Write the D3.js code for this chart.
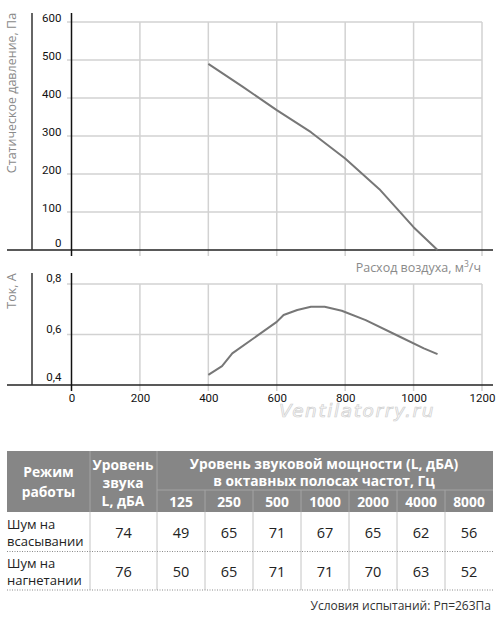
<!DOCTYPE html>
<html lang="ru">
<head>
<meta charset="utf-8">
<title>Характеристика вентилятора</title>
<script src="https://cdn.jsdelivr.net/npm/d3@7"></script>
<style>
    body { margin: 0; background: #fff; }
    svg { display: block; font-family: "Open Sans", sans-serif; }
    .tick text { font-family: Roboto, sans-serif; font-size: 11.5px; fill: #111; }
    .axis-title { fill: #8a8a8a; font-size: 12.5px; }
</style>
</head>
<body>
<script>
// ---- data ----
var flowTicks = [0, 200, 400, 600, 800, 1000, 1200];
var pressureTicks = [0, 100, 200, 300, 400, 500, 600];
var currentTicks = [0.4, 0.6, 0.8];

var pressureFlow = [400, 500, 600, 700, 800, 900, 1000, 1070];
var pressure     = [490, 430, 368, 310, 241, 160, 60, 0];

var currentFlow = [400, 440, 470, 600, 620, 660, 700, 740, 790, 860, 960, 1030, 1070];
var current     = [0.44, 0.475, 0.525, 0.65, 0.677, 0.697, 0.71, 0.71, 0.694, 0.657, 0.591, 0.545, 0.522];

var octaves = ["125", "250", "500", "1000", "2000", "4000", "8000"];
var modes = [["Шум на", "всасывании"], ["Шум на", "нагнетании"]];
var soundLevel = [74, 76];
var octaveLevels = [
    [49, 65, 71, 67, 65, 62, 56],
    [50, 65, 71, 71, 70, 63, 52]
];

var w = 500, h = 622;
var svg = d3.select("body").append("svg").attr("width", w).attr("height", h);

// shared x scale
var x = d3.scaleLinear().domain([0, 1200]).range([71.5, 482]);

function drawPanel(y, ticks, top, fmt, data, yLabel, labelY, labelShift) {
    var g = svg.append("g");
    var y0 = y.range()[0];

    // grid
    g.selectAll(".hgrid").data(ticks.slice(1)).enter().append("line")
        .attr("x1", 67).attr("x2", x(1200))
        .attr("y1", d => y(d)).attr("y2", d => y(d))
        .attr("stroke", "#d2d2d2").attr("stroke-width", 1.5);
    g.selectAll(".vgrid").data(flowTicks.slice(1)).enter().append("line")
        .attr("x1", d => x(d)).attr("x2", d => x(d))
        .attr("y1", y(ticks[ticks.length - 1])).attr("y2", y0 + 6)
        .attr("stroke", "#d2d2d2").attr("stroke-width", 1.5);

    // axis lines
    g.append("line").attr("x1", 7).attr("x2", 493).attr("y1", y0).attr("y2", y0)
        .attr("stroke", "#222").attr("stroke-width", 1.5);
    g.append("line").attr("x1", 32).attr("x2", 32).attr("y1", top).attr("y2", y0)
        .attr("stroke", "#333").attr("stroke-width", 1.5);
    g.append("line").attr("x1", x(0)).attr("x2", x(0)).attr("y1", top).attr("y2", y0 + 6)
        .attr("stroke", "#111").attr("stroke-width", 1.5);

    // y tick labels (lowest one sits a bit higher, above the axis)
    var ya = g.append("g").attr("transform", "translate(" + x(0) + ",0)")
        .call(d3.axisLeft(y).tickValues(ticks).tickFormat(fmt).tickSize(0).tickPadding(10));
    ya.select(".domain").remove();
    ya.selectAll("text").attr("y", (d, i) => i === 0 ? labelShift - 2.5 : labelShift);

    // curve
    g.append("path")
        .datum(data)
        .attr("fill", "none")
        .attr("stroke", "#777")
        .attr("stroke-width", 2)
        .attr("stroke-linejoin", "round")
        .attr("d", d3.line().x(d => x(d[0])).y(d => y(d[1])));

    // y title
    g.append("text").attr("class", "axis-title")
        .attr("transform", "translate(16," + labelY + ") rotate(-90)")
        .attr("text-anchor", "middle")
        .text(yLabel);
    return g;
}

// ---- pressure panel ----
var yP = d3.scaleLinear().domain([0, 600]).range([250, 22]);
drawPanel(yP, pressureTicks, 13, d => d,
    pressureFlow.map((f, i) => [f, pressure[i]]),
    "Статическое давление, Па", 93, -4.5);

var xTitle = svg.append("text").attr("class", "axis-title")
    .attr("x", 481).attr("y", 272).attr("text-anchor", "end")
    .text("Расход воздуха, м");
xTitle.append("tspan").attr("dy", -5).attr("font-size", "8.5px").text("3");
xTitle.append("tspan").attr("dy", 5).text("/ч");

// ---- current panel ----
var yC = d3.scaleLinear().domain([0.4, 0.8]).range([385, 284]);
drawPanel(yC, currentTicks, 273, d => d.toFixed(1).replace(".", ","),
    currentFlow.map((f, i) => [f, current[i]]),
    "Ток, А", 291, -6);

var xa = svg.append("g").attr("transform", "translate(0,385)")
    .call(d3.axisBottom(x).tickValues(flowTicks).tickFormat(d3.format("d")).tickSize(0).tickPadding(9));
xa.select(".domain").remove();

// watermark
svg.append("text")
    .attr("x", 357).attr("y", 417)
    .attr("text-anchor", "middle")
    .attr("font-family", "DejaVu Sans, sans-serif")
    .attr("font-style", "italic")
    .attr("font-size", "18.5px")
    .attr("letter-spacing", "1.6px")
    .attr("fill", "#fbfbfb")
    .attr("stroke", "#cfcfcf")
    .attr("stroke-width", 0.7)
    .text("Ventilatorry.ru");

// ---- table ----
var tLeft = 7, tRight = 493, c1 = 90, c2 = 157;
var hTop = 451, hMid = 490, hBot = 512;
var rowBot = [551.5, 590];
var band = d3.scaleBand().domain(octaves).range([c2, tRight]);

var t = svg.append("g");
t.append("rect").attr("x", tLeft).attr("y", hTop).attr("width", tRight - tLeft).attr("height", hBot - hTop)
    .attr("fill", "#868686");

var sep = "#a3a3a3";
[c1, c2].forEach(function(cx) {
    t.append("line").attr("x1", cx).attr("x2", cx).attr("y1", hTop).attr("y2", hBot)
        .attr("stroke", sep).attr("stroke-width", 1);
});
t.append("line").attr("x1", c2).attr("x2", tRight).attr("y1", hMid).attr("y2", hMid)
    .attr("stroke", sep).attr("stroke-width", 1);
t.selectAll(".hsep").data(octaves.slice(1)).enter().append("line")
    .attr("x1", d => band(d)).attr("x2", d => band(d))
    .attr("y1", hMid).attr("y2", hBot).attr("stroke", sep).attr("stroke-width", 1);

function headText(tx, ty, s) {
    t.append("text").attr("x", tx).attr("y", ty).attr("text-anchor", "middle")
        .attr("fill", "#fff").attr("font-weight", "bold").attr("font-size", "13.8px").text(s);
}
headText(48.5, 477, "Режим");
headText(48.5, 497, "работы");
headText(123, 469.5, "Уровень");
headText(123, 487.5, "звука");
headText(123, 505.5, "L, дБА");
headText(324, 469, "Уровень звуковой мощности (L, дБА)");
headText(324, 486, "в октавных полосах частот, Гц");
octaves.forEach(function(o) { headText(band(o) + band.bandwidth() / 2, 507, o); });

// body grid
t.selectAll(".vsep").data([c1, c2].concat(octaves.slice(1).map(d => band(d)))).enter().append("line")
    .attr("x1", d => d).attr("x2", d => d).attr("y1", hBot).attr("y2", rowBot[1])
    .attr("stroke", "#c4c4c4").attr("stroke-width", 1);
t.selectAll(".hsepb").data(rowBot).enter().append("line")
    .attr("x1", tLeft).attr("x2", tRight).attr("y1", d => d).attr("y2", d => d)
    .attr("stroke", "#8a8a8a").attr("stroke-width", 1).attr("stroke-dasharray", "1,1.5");

var rowTop = [hBot, rowBot[0]];
modes.forEach(function(m, r) {
    var mid = (rowTop[r] + rowBot[r]) / 2;
    t.append("text").attr("x", tLeft).attr("y", mid - 3).attr("fill", "#222").attr("font-size", "13px").text(m[0]);
    t.append("text").attr("x", tLeft).attr("y", mid + 14).attr("fill", "#222").attr("font-size", "13px").text(m[1]);
    t.append("text").attr("x", (c1 + c2) / 2).attr("y", mid + 6).attr("text-anchor", "middle")
        .attr("fill", "#222").attr("font-size", "14.5px").text(soundLevel[r]);
    octaves.forEach(function(o, i) {
        t.append("text").attr("x", band(o) + band.bandwidth() / 2).attr("y", mid + 6)
            .attr("text-anchor", "middle").attr("fill", "#222").attr("font-size", "14.5px")
            .text(octaveLevels[r][i]);
    });
});

svg.append("text").attr("x", 491).attr("y", 609.5).attr("text-anchor", "end")
    .attr("fill", "#333").attr("font-size", "12px")
    .text("Условия испытаний: Рп=263Па");
</script>
</body>
</html>
